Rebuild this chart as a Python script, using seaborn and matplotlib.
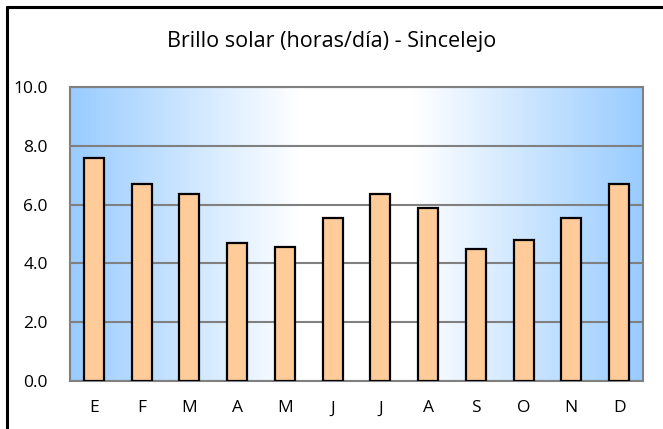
import numpy as np
import pandas as pd
import matplotlib
matplotlib.use("Agg")
import matplotlib.pyplot as plt
from matplotlib.colors import LinearSegmentedColormap
from matplotlib.lines import Line2D
import seaborn as sns

# Data
meses = ["E", "F", "M", "A", "M", "J", "J", "A", "S", "O", "N", "D"]
brillo = [7.6, 6.7, 6.35, 4.7, 4.57, 5.53, 6.35, 5.88, 4.5, 4.78, 5.53, 6.7]

df = pd.DataFrame({"pos": range(len(meses)), "mes": meses, "brillo": brillo})

sns.set_style("white")
plt.rcParams['font.family'] = ['Open Sans', 'DejaVu Sans']
plt.rcParams['text.color'] = 'black'
plt.rcParams['xtick.labelcolor'] = 'black'
plt.rcParams['ytick.labelcolor'] = 'black'

fig = plt.figure(figsize=(6.63, 4.29), dpi=100)
ax = fig.add_axes([70 / 663, 48 / 429, 573 / 663, 294 / 429])

# horizontal gradient background: blue - white - blue
cmap = LinearSegmentedColormap.from_list(
    "bg", [(0, "#99ccff"), (0.4, "#ffffff"), (0.6, "#ffffff"), (1, "#99ccff")])
grad = np.linspace(0, 1, 256).reshape(1, -1)
ax.imshow(grad, cmap=cmap, aspect="auto", extent=[-0.5, 11.5, 0, 10], zorder=0)

sns.barplot(data=df, x="pos", y="brillo", color="#ffcc99", width=0.42,
            edgecolor="black", linewidth=1.6, saturation=1, ax=ax, zorder=3)

ax.set_xlim(-0.5, 11.5)
ax.set_ylim(0, 10)
yt = np.arange(0, 10.1, 2)
ax.set_yticks(yt)
ax.set_yticklabels([f"{v:.1f}" for v in yt], fontsize=12.5)
ax.yaxis.grid(True, color="#808080", linewidth=1.5)
for gl in ax.get_ygridlines():
    gl.set_zorder(1)

# ticks between categories, labels centered
ax.set_xticks(np.arange(-0.5, 12, 1))
ax.set_xticklabels([])
ax.set_xticks(range(len(meses)), minor=True)
ax.set_xticklabels(meses, minor=True, fontsize=12.5)
ax.tick_params(axis="x", which="major", direction="out", length=5, color="#808080", width=1.2)
ax.tick_params(axis="x", which="minor", length=0, pad=14, labelcolor="black")
ax.tick_params(axis="y", length=0, pad=16, labelcolor="black")

ax.set_xlabel("")
ax.set_ylabel("")
for s in ax.spines.values():
    s.set_color("#808080")
    s.set_linewidth(1.5)

fig.suptitle("Brillo solar (horas/día) - Sincelejo", y=1 - 41 / 429, va="center",
             fontsize=15.5, color="black")

# outer chart border
fig.add_artist(Line2D([7 / 663, 7 / 663], [0, 1 - 7 / 429], color="black", lw=2.2, transform=fig.transFigure))
fig.add_artist(Line2D([7 / 663, 1], [1 - 7 / 429, 1 - 7 / 429], color="black", lw=2.2, transform=fig.transFigure))

fig.savefig("out.png", dpi=100)
